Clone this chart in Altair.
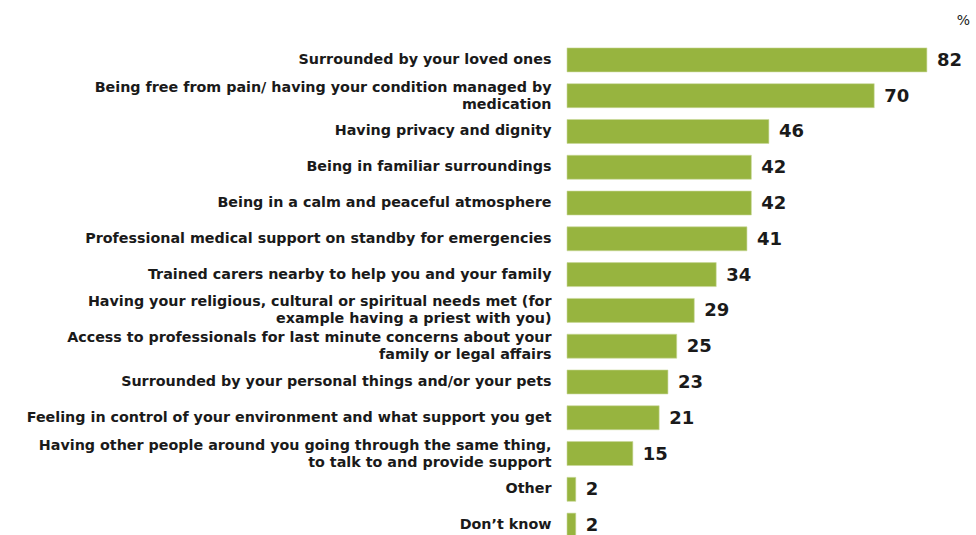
import altair as alt
import pandas as pd

categories = [
    "Surrounded by your loved ones",
    "Being free from pain/ having your condition managed by\nmedication",
    "Having privacy and dignity",
    "Being in familiar surroundings",
    "Being in a calm and peaceful atmosphere",
    "Professional medical support on standby for emergencies",
    "Trained carers nearby to help you and your family",
    "Having your religious, cultural or spiritual needs met (for\nexample having a priest with you)",
    "Access to professionals for last minute concerns about your\nfamily or legal affairs",
    "Surrounded by your personal things and/or your pets",
    "Feeling in control of your environment and what support you get",
    "Having other people around you going through the same thing,\nto talk to and provide support",
    "Other",
    "Don\u2019t know",
]
values = [82, 70, 46, 42, 42, 41, 34, 29, 25, 23, 21, 15, 2, 2]

df = pd.DataFrame({"category": categories, "value": values})

FONT = "DejaVu Sans"
GREEN = "#97B43F"
TEXT = "#1a1a1a"

y = alt.Y(
    "category:N",
    sort=categories,
    scale=alt.Scale(paddingInner=0.33, paddingOuter=0.165),
    axis=alt.Axis(
        title=None,
        domain=False,
        ticks=False,
        grid=False,
        labelFont=FONT,
        labelFontWeight="bold",
        labelFontSize=14.3,
        labelColor=TEXT,
        labelPadding=16,
        labelLimit=600,
        labelLineHeight=17,
        labelBaseline="middle",
        labelOffset={"condition": {"test": "indexof(datum.value, '\\n') >= 0", "value": -8}, "value": 0},
        labelExpr="split(datum.label, '\\n')",
    ),
)
x = alt.X(
    "value:Q",
    scale=alt.Scale(domain=[0, 90], nice=False),
    axis=None,
)

bars = alt.Chart(df).mark_bar(color=GREEN, stroke="#c9d99a", strokeWidth=0.6).encode(x=x, y=y)
labels = alt.Chart(df).mark_text(
    align="left", baseline="middle", dx=10, dy=1,
    font=FONT, fontWeight="bold", fontSize=18, color=TEXT,
).encode(x=x, y=y, text="value:Q")

chart = (bars + labels).properties(
    width=395,
    height=501,
    background="white",
    title=alt.TitleParams(
        "%", anchor="end", font=FONT, fontSize=14, fontWeight="normal",
        color=TEXT, offset=14, dx=8,
    ),
    autosize=alt.AutoSizeParams(type="none"),
    padding={"left": 567, "top": 42, "right": 14, "bottom": 0},
).configure_view(stroke=None)

chart.save("out.html", embed_options={"renderer": "svg", "actions": False})
